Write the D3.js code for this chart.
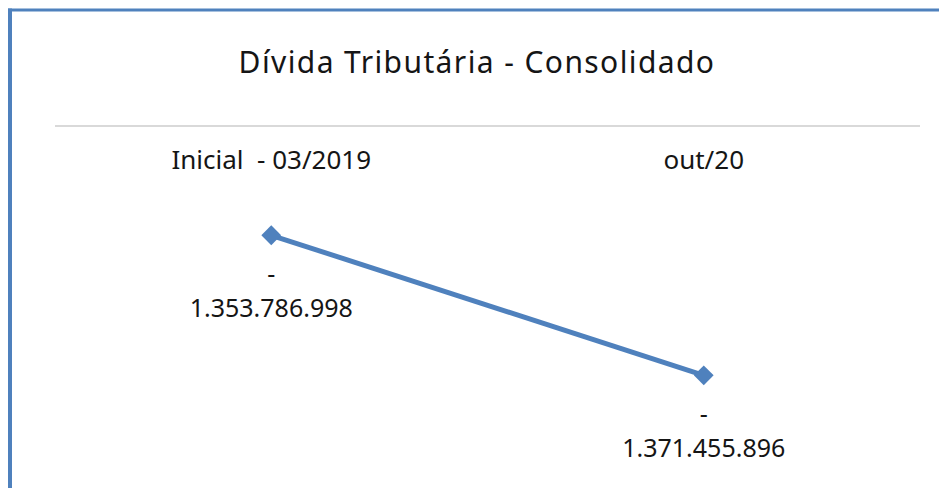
<!DOCTYPE html>
<html>
<head>
<meta charset="utf-8">
<script src="https://cdn.jsdelivr.net/npm/d3@7"></script>
<style>
  html, body { margin: 0; background: #fff; overflow: hidden; }
  svg { display: block; }
  text { font-family: "Noto Sans", sans-serif; fill: #151515; }
</style>
</head>
<body>
<div class="chart"></div>
<script>
// data
const categories = ["Inicial  - 03/2019", "out/20"];
const values = [-1353786998, -1371455896];
const yDomain = [-1380000000, -1340000000];
const title = "Dívida Tributária - Consolidado";

const W = 939, H = 488;
const plot = { left: 55, right: 920, top: 126, bottom: 443 };
const blue = "#4f81bd";

const ptBR = d3.formatLocale({ decimal: ",", thousands: ".", grouping: [3], currency: ["R$", ""] });
const fmt = ptBR.format(",.0f");

const svg = d3.select(".chart")
  .append("svg")
  .attr("width", W)
  .attr("height", H);

// frame: only top and left edges are in view
svg.append("line")
  .attr("x1", 8).attr("x2", W + 5)
  .attr("y1", 10).attr("y2", 10)
  .attr("stroke", blue)
  .attr("stroke-width", 3);
svg.append("line")
  .attr("x1", 10).attr("x2", 10)
  .attr("y1", 8.5).attr("y2", H + 5)
  .attr("stroke", blue)
  .attr("stroke-width", 4);

svg.append("text")
  .attr("x", 477)
  .attr("y", 73)
  .attr("text-anchor", "middle")
  .style("font-size", "30px")
  .style("letter-spacing", "1.4px")
  .text(title);

let x = d3.scaleBand().domain(categories).range([plot.left, plot.right]).padding(0);
let y = d3.scaleLinear().domain(yDomain).range([plot.bottom, plot.top]);
const cx = (d) => x(d) + x.bandwidth() / 2;

// horizontal axis sits at the top of the value range
svg.append("line")
  .attr("x1", plot.left)
  .attr("x2", plot.right)
  .attr("y1", y(yDomain[1]))
  .attr("y2", y(yDomain[1]))
  .attr("stroke", "#d9d9d9")
  .attr("stroke-width", 2);

svg.selectAll(".cat")
  .data(categories)
  .enter()
  .append("text")
  .attr("class", "cat")
  .attr("x", (d) => cx(d))
  .attr("y", y(yDomain[1]) + 43)
  .attr("text-anchor", "middle")
  .attr("xml:space", "preserve")
  .style("white-space", "pre")
  .style("font-size", "26px")
  .text((d) => d);

const pts = categories.map((c, i) => ({ c: c, v: values[i] }));

svg.append("path")
  .datum(pts)
  .attr("fill", "none")
  .attr("stroke", blue)
  .attr("stroke-width", 5)
  .attr("d", d3.line().x((d) => cx(d.c)).y((d) => y(d.v)));

svg.selectAll(".marker")
  .data(pts)
  .enter()
  .append("path")
  .attr("class", "marker")
  .attr("d", d3.symbol(d3.symbolSquare, 196))
  .attr("transform", (d) => `translate(${cx(d.c)}, ${y(d.v)}) rotate(45)`)
  .attr("fill", blue);

// data labels: sign on one line, amount on the next
const lbl = svg.selectAll(".lbl")
  .data(pts)
  .enter()
  .append("text")
  .attr("class", "lbl")
  .attr("text-anchor", "middle")
  .style("font-size", "25px");

lbl.append("tspan")
  .attr("x", (d) => cx(d.c))
  .attr("y", (d) => y(d.v) + 48)
  .text((d) => (d.v < 0 ? "-" : ""));

lbl.append("tspan")
  .attr("x", (d) => cx(d.c))
  .attr("y", (d) => y(d.v) + 82)
  .text((d) => fmt(Math.abs(d.v)));

// keep the right edge clean, the chart frame runs past the window
svg.append("rect")
  .attr("x", 925).attr("y", 12)
  .attr("width", 20).attr("height", H)
  .attr("fill", "#fff");
</script>
</body>
</html>
